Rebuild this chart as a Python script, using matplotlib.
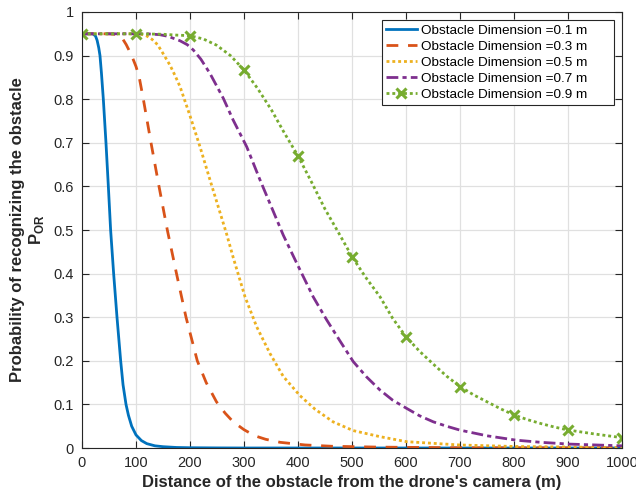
import numpy as np
import matplotlib
matplotlib.use("Agg")
import matplotlib.pyplot as plt

plt.rcParams['font.family'] = ['Liberation Sans', 'DejaVu Sans']
plt.rcParams['mathtext.fontset'] = 'custom'
plt.rcParams['mathtext.rm'] = 'Liberation Sans'
plt.rcParams['mathtext.bf'] = 'Liberation Sans:bold'
plt.rcParams['lines.scale_dashes'] = False

# ---- data ----
x_01 = [0, 10, 20, 25, 28, 31, 33.3, 36, 39.5, 44.4, 48.8, 53, 58.6, 64.8, 71.6, 76, 81.5, 86, 92, 100,
        110, 120, 135, 150, 175, 200, 250, 300, 500, 1000]
y_01 = [0.95, 0.95, 0.95, 0.945, 0.935, 0.918, 0.9, 0.86, 0.8, 0.7, 0.6, 0.5, 0.4, 0.3, 0.2, 0.145, 0.1, 0.075,
        0.05, 0.03, 0.017, 0.01, 0.005, 0.003, 0.0012, 0.0006, 0.0002, 0.0, 0.0, 0.0]

x_03 = [0, 50, 60, 70, 76, 82, 88, 92, 100, 106, 113.6, 127.8, 142.6, 158, 175, 192.6, 213.5, 230, 249,
        265, 280, 300, 320, 340, 367, 413, 462, 550, 700, 1000]
y_03 = [0.95, 0.95, 0.949, 0.945, 0.937, 0.925, 0.91, 0.9, 0.875, 0.85, 0.8, 0.7, 0.6, 0.5, 0.4, 0.3, 0.2,
        0.15, 0.106, 0.08, 0.06, 0.042, 0.028, 0.02, 0.013, 0.007, 0.004, 0.002, 0.0005, 0.0001]

x_05 = [0, 100, 110, 120, 130, 140, 150, 163, 172, 181.5, 200, 218.5, 237, 255.6, 268, 280, 301.8, 323.5,
        348, 372.8, 403.7, 431.5, 465, 502, 551.8, 601, 700, 800, 1000]
y_05 = [0.95, 0.95, 0.949, 0.945, 0.937, 0.925, 0.905, 0.878, 0.855, 0.829, 0.762, 0.691, 0.615, 0.54, 0.49,
        0.437, 0.347, 0.278, 0.217, 0.164, 0.12, 0.089, 0.06, 0.04, 0.026, 0.0145, 0.0069, 0.0035, 0.001]

x_07 = [0, 120, 144, 160, 181.5, 195, 206, 220, 237, 261.7, 280, 305, 329.6, 348, 372.8, 397.6, 428, 453,
        478, 502.4, 527, 551.8, 575, 601, 625, 650.6, 675, 700, 750, 803.7, 850, 902, 950, 1000]
y_07 = [0.95, 0.95, 0.948, 0.944, 0.934, 0.925, 0.913, 0.892, 0.859, 0.802, 0.752, 0.691, 0.615, 0.561,
        0.488, 0.424, 0.347, 0.294, 0.245, 0.198, 0.163, 0.133, 0.11, 0.091, 0.074, 0.060, 0.05, 0.041,
        0.028, 0.018, 0.013, 0.009, 0.007, 0.005]

x_09 = [0, 100, 150, 175, 200, 225, 249, 275, 300, 325, 351, 375, 400, 425, 450, 475, 500, 525, 551.8,
        575, 600, 625, 650, 675, 700, 725, 750, 775, 800, 825, 850, 875, 900, 950, 1000]
y_09 = [0.95, 0.95, 0.949, 0.947, 0.9457, 0.938, 0.924, 0.9, 0.867, 0.825, 0.775, 0.722, 0.670, 0.61,
        0.548, 0.494, 0.439, 0.392, 0.347, 0.298, 0.255, 0.222, 0.193, 0.165, 0.141, 0.122, 0.106, 0.09,
        0.0757, 0.065, 0.056, 0.048, 0.0413, 0.032, 0.0237]

labels = ['Obstacle Dimension =0.1 m', 'Obstacle Dimension =0.3 m',
          'Obstacle Dimension =0.5 m', 'Obstacle Dimension =0.7 m',
          'Obstacle Dimension =0.9 m']
x_ticks = [0, 100, 200, 300, 400, 500, 600, 700, 800, 900, 1000]
y_ticks = [0, 0.1, 0.2, 0.3, 0.4, 0.5, 0.6, 0.7, 0.8, 0.9, 1]

fig = plt.figure(figsize=(6.36, 4.95), dpi=100)
ax = fig.add_axes([82/636, 47/495, 540/636, 436/495])

lw = 2.0
ax.plot(x_01, y_01, color='#0072BD', lw=lw, label=labels[0])
ax.plot(x_03, y_03, color='#D95319', lw=lw, dashes=(8.5, 7.0), label=labels[1])
ax.plot(x_05, y_05, color='#EDB120', lw=lw, dashes=(2.1, 2.1), dash_capstyle='butt', label=labels[2])
ax.plot(x_07, y_07, color='#7E2F8E', lw=lw, dashes=(8.5, 3.0, 3.0, 3.0), label=labels[3])
mk = [i for i, v in enumerate(x_09) if v % 100 == 0]
ax.plot(x_09, y_09, color='#77AC30', lw=lw, dashes=(2.1, 2.1), dash_capstyle='butt',
        marker='x', markevery=mk, markersize=7, markeredgewidth=2.2, label=labels[4])

ax.set_xlim(0, 1000)
ax.set_ylim(0, 1)
ax.set_xticks(x_ticks)
ax.set_yticks(y_ticks)
ax.set_xticklabels([str(v) for v in x_ticks])
ax.set_yticklabels(['0'] + [f'{v:g}' for v in y_ticks[1:]])
ax.grid(True, color='#e0e0e0', lw=0.9)
ax.set_axisbelow(True)
ax.tick_params(direction='in', length=5, width=0.8, top=True, right=True,
               labelsize=10.5, colors='#262626', pad=6)
for s in ax.spines.values():
    s.set_color('#262626')
    s.set_linewidth(0.8)

ax.set_xlabel("Distance of the obstacle from the drone's camera (m)",
              fontsize=12, fontweight='bold', color='#262626', labelpad=3)
ax.set_ylabel("Probability of recognizing the obstacle\n$\\mathbf{P}_{\\mathbf{OR}}$",
              fontsize=12, fontweight='bold', color='#262626', labelpad=5,
              multialignment='center')

pad_labels = [l + '      ' for l in labels]
handles = ax.get_lines()
leg = ax.legend(handles, pad_labels, loc='upper right', fontsize=9.7, frameon=True, fancybox=False,
                edgecolor='#262626', framealpha=1, handlelength=2.3,
                handletextpad=0.3, labelspacing=0.27, borderpad=0.3,
                borderaxespad=0.6)
leg.get_frame().set_linewidth(0.8)

fig.savefig('out.png', dpi=100)
